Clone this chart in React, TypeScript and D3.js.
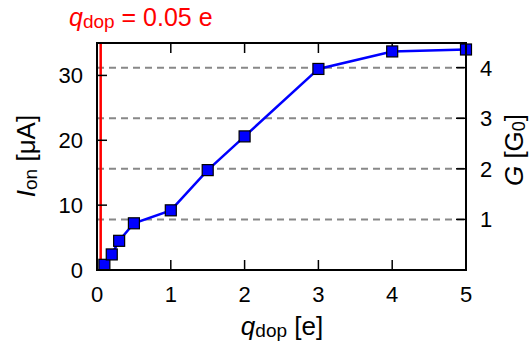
import React from "react";
import * as d3 from "d3";

// Doping charge q_dop [e] and on-current I_on [µA]
const qDop = [0.1, 0.2, 0.3, 0.5, 1, 1.5, 2, 3, 4, 5];
const iOn = [0.8, 2.4, 4.5, 7.2, 9.2, 15.4, 20.6, 31.0, 33.7, 34.0];

const xTicks = [0, 1, 2, 3, 4, 5];
const leftTicks = [0, 10, 20, 30];
const rightTicks = [1, 2, 3, 4];
const markerCharge = 0.05;

// µA per conductance quantum G0 on the right axis
const uAPerG0 = 7.8;

const W = 529;
const H = 349;
const m = { left: 97, right: 63, top: 43, bottom: 79 };
const font = "'Liberation Sans', Arial, Helvetica, sans-serif";

export default function App() {
  const x = d3.scaleLinear().domain([0, 5]).range([m.left, W - m.right]);
  const y = d3.scaleLinear().domain([0, 35]).range([H - m.bottom, m.top]);
  const yG = d3
    .scaleLinear()
    .domain([0, 35 / uAPerG0])
    .range([H - m.bottom, m.top]);

  const line = d3
    .line<number>()
    .x((_, i) => x(qDop[i]))
    .y((d) => y(d));

  const x0 = m.left;
  const x1 = W - m.right;
  const y0 = H - m.bottom;
  const y1 = m.top;
  const tick = 10;
  const ms = 11;

  return (
    <svg
      width={W}
      height={H}
      style={{ position: "absolute", left: 0, top: 0, background: "#fff" }}
      fontFamily={font}
    >
      {/* conductance grid */}
      {rightTicks.map((g) => (
        <line
          key={"g" + g}
          x1={x0}
          x2={x1}
          y1={yG(g)}
          y2={yG(g)}
          stroke="#888"
          strokeWidth={2}
          strokeDasharray="7,5"
        />
      ))}

      {/* doping marker */}
      <line
        x1={x(markerCharge)}
        x2={x(markerCharge)}
        y1={y1}
        y2={y0}
        stroke="#ff0000"
        strokeWidth={2.5}
      />

      {/* ticks */}
      {xTicks.slice(1, -1).map((t) => (
        <g key={"xt" + t}>
          <line x1={x(t)} x2={x(t)} y1={y0} y2={y0 - tick} stroke="#000" strokeWidth={1.5} />
          <line x1={x(t)} x2={x(t)} y1={y1} y2={y1 + tick} stroke="#000" strokeWidth={1.5} />
        </g>
      ))}
      {leftTicks.slice(1).map((t) => (
        <line key={"lt" + t} x1={x0} x2={x0 + tick} y1={y(t)} y2={y(t)} stroke="#000" strokeWidth={1.5} />
      ))}
      {rightTicks.map((t) => (
        <line key={"rt" + t} x1={x1} x2={x1 - tick} y1={yG(t)} y2={yG(t)} stroke="#000" strokeWidth={1.5} />
      ))}

      {/* data */}
      <path d={line(iOn) || ""} fill="none" stroke="#0000ff" strokeWidth={2.5} />
      {iOn.map((v, i) => (
        <rect
          key={"p" + i}
          x={x(qDop[i]) - ms / 2}
          y={y(v) - ms / 2}
          width={ms}
          height={ms}
          fill="#0000ff"
          stroke="#000"
          strokeWidth={1.2}
        />
      ))}

      {/* frame */}
      <rect x={x0} y={y1} width={x1 - x0} height={y0 - y1} fill="none" stroke="#000" strokeWidth={2} />

      {/* tick labels */}
      {xTicks.map((t) => (
        <text key={"xl" + t} x={x(t)} y={y0 + 32} textAnchor="middle" fontSize={22}>
          {t}
        </text>
      ))}
      {leftTicks.map((t) => (
        <text key={"ll" + t} x={x0 - 14} y={y(t) + 8} textAnchor="end" fontSize={22}>
          {t}
        </text>
      ))}
      {rightTicks.map((t) => (
        <text key={"rl" + t} x={x1 + 14} y={yG(t) + 8} textAnchor="start" fontSize={22}>
          {t}
        </text>
      ))}

      {/* axis titles */}
      <text x={282} y={335} textAnchor="middle" fontSize={26}>
        <tspan fontStyle="italic">q</tspan>
        <tspan fontSize={19} dy={2}>dop</tspan>
        <tspan dy={-2}> [e]</tspan>
      </text>
      <text transform="translate(35,156) rotate(-90)" textAnchor="middle" fontSize={26}>
        <tspan fontStyle="italic">I</tspan>
        <tspan fontSize={19} dy={2}>on</tspan>
        <tspan dy={-2}> [μA]</tspan>
      </text>
      <text transform="translate(523,150) rotate(-90)" textAnchor="middle" fontSize={26}>
        <tspan fontStyle="italic">G</tspan>
        <tspan> [G</tspan>
        <tspan fontSize={18} dy={2}>0</tspan>
        <tspan dy={-2}>]</tspan>
      </text>

      {/* marker title */}
      <text x={69} y={26} fill="#ff0000" fontSize={25}>
        <tspan fontStyle="italic">q</tspan>
        <tspan fontSize={19} dy={2}>dop</tspan>
        <tspan dy={-2}> = 0.05 e</tspan>
      </text>
    </svg>
  );
}
